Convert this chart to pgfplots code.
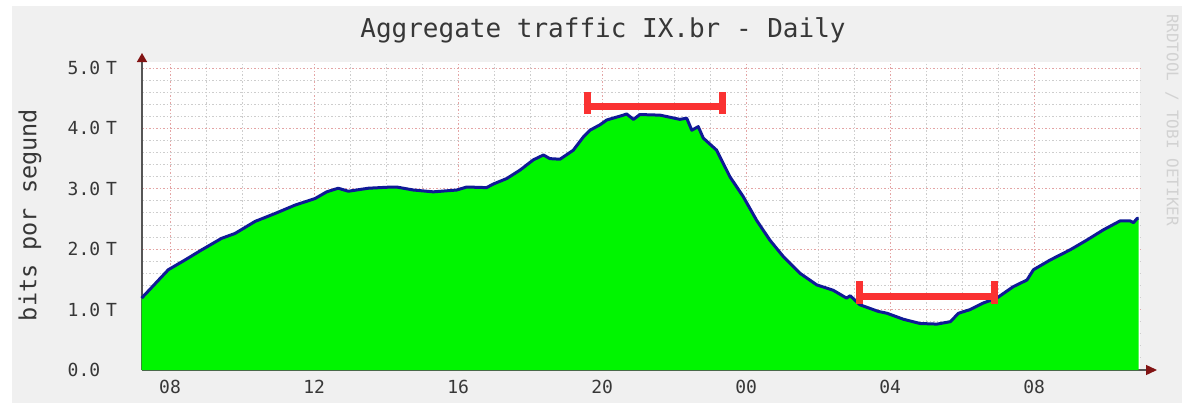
\documentclass[border=0pt]{standalone}
\usepackage{fontspec}
\setmainfont{DejaVu Sans Mono}
\usepackage{pgfplots}
\pgfplotsset{compat=1.18}
\usepackage{pgfplotstable}
\usetikzlibrary{arrows.meta}
\definecolor{bggray}{RGB}{240,240,240}
\definecolor{areagreen}{RGB}{0,245,0}
\definecolor{lineblue}{RGB}{15,25,150}
\definecolor{majgrid}{RGB}{228,165,165}
\definecolor{mingrid}{RGB}{205,205,205}
\definecolor{axisdark}{RGB}{85,85,85}
\definecolor{arrowred}{RGB}{130,20,20}
\definecolor{annred}{RGB}{250,50,50}
\definecolor{txt}{RGB}{55,55,55}

\pgfplotstableread{
h v
7.21 1.19
7.95 1.66
8.41 1.82
8.88 1.99
9.43 2.18
9.80 2.26
10.36 2.46
10.91 2.59
11.47 2.73
12.03 2.84
12.35 2.95
12.67 3.01
12.95 2.96
13.51 3.01
14.16 3.03
14.29 3.03
14.76 2.98
15.31 2.95
15.96 2.98
16.24 3.03
16.79 3.02
16.98 3.08
17.35 3.17
17.72 3.31
18.09 3.48
18.37 3.56
18.55 3.50
18.83 3.49
19.20 3.64
19.48 3.86
19.66 3.97
19.94 4.06
20.13 4.14
20.59 4.22
20.68 4.24
20.87 4.15
21.05 4.23
21.61 4.22
22.16 4.15
22.35 4.17
22.49 3.97
22.67 4.03
22.81 3.84
23.18 3.64
23.55 3.20
23.92 2.87
24.29 2.48
24.66 2.15
25.03 1.88
25.50 1.60
25.96 1.41
26.42 1.32
26.79 1.19
26.89 1.23
27.16 1.08
27.67 0.97
27.91 0.94
28.37 0.84
28.83 0.77
29.30 0.76
29.67 0.80
29.90 0.94
30.22 1.00
30.59 1.11
30.96 1.19
31.42 1.38
31.80 1.49
31.98 1.66
32.44 1.82
33.00 1.99
33.46 2.15
33.92 2.32
34.39 2.47
34.66 2.47
34.76 2.44
34.86 2.51
34.90 2.51
}\traffic

\begin{document}
\begin{tikzpicture}
\fill[white] (0pt,0pt) rectangle (1182pt,-403pt);
\fill[bggray] (12pt,-6pt) rectangle (1182pt,-403pt);
\node[txt, font=\fontsize{26}{28}\selectfont] at (603pt,-30pt) {Aggregate traffic IX.br - Daily};
\node[txt, rotate=90, font=\fontsize{23.5}{25}\selectfont] at (30pt,-215pt) {bits por segund};
\node[gray!35, rotate=-90, font=\fontsize{16}{18}\selectfont] at (1172pt,-120pt) {RRDTOOL / TOBI OETIKER};
\begin{axis}[
  at={(142pt,-370pt)}, anchor=south west,
  width=998pt, height=308pt, scale only axis,
  xmin=7.22, xmax=34.94, ymin=0, ymax=5.1,
  axis background/.style={fill=white},
  axis lines=left,
  axis line style={axisdark, line width=1.4pt},
  x axis line style={-{Triangle[length=11pt,width=10pt,fill=arrowred,color=arrowred]}, shorten >=-17pt},
  y axis line style={-{Triangle[length=9pt,width=10pt,fill=arrowred,color=arrowred]}, shorten >=-9pt},
  xtick={8,12,16,20,24,28,32},
  xticklabels={08,12,16,20,00,04,08},
  minor x tick num=3,
  ytick={0,1,2,3,4,5},
  yticklabels={0.0,1.0 T,2.0 T,3.0 T,4.0 T,5.0 T},
  minor y tick num=4,
  grid=both,
  major grid style={majgrid, line width=1pt, dash pattern=on 1.5pt off 2pt},
  minor grid style={mingrid, line width=1pt, dash pattern=on 1.5pt off 2pt},
  tick style={draw=none},
  xticklabel style={txt, font=\fontsize{18}{20}\selectfont, inner sep=0pt, yshift=-8pt},
  yticklabel style={txt, font=\fontsize{18}{20}\selectfont, anchor=east, inner sep=0pt, text width=58pt, align=left, xshift=-14pt},
  clip=false,
]
\addplot[fill=areagreen, draw=none] table[x=h,y=v] {\traffic} \closedcycle;
\addplot[draw=lineblue, line width=3pt, line join=round] table[x=h,y=v] {\traffic};
\addplot[draw=annred, line width=7pt] coordinates {(19.58,4.37) (23.35,4.37)};
\addplot[draw=annred, line width=7pt] coordinates {(19.58,4.24) (19.58,4.60)};
\addplot[draw=annred, line width=7pt] coordinates {(23.35,4.24) (23.35,4.60)};
\addplot[draw=annred, line width=7pt] coordinates {(27.14,1.225) (30.91,1.225)};
\addplot[draw=annred, line width=7pt] coordinates {(27.14,1.10) (27.14,1.47)};
\addplot[draw=annred, line width=7pt] coordinates {(30.91,1.10) (30.91,1.47)};
\end{axis}
\pgfresetboundingbox
\useasboundingbox (0pt,0pt) rectangle (1182pt,-403pt);
\end{tikzpicture}
\end{document}
